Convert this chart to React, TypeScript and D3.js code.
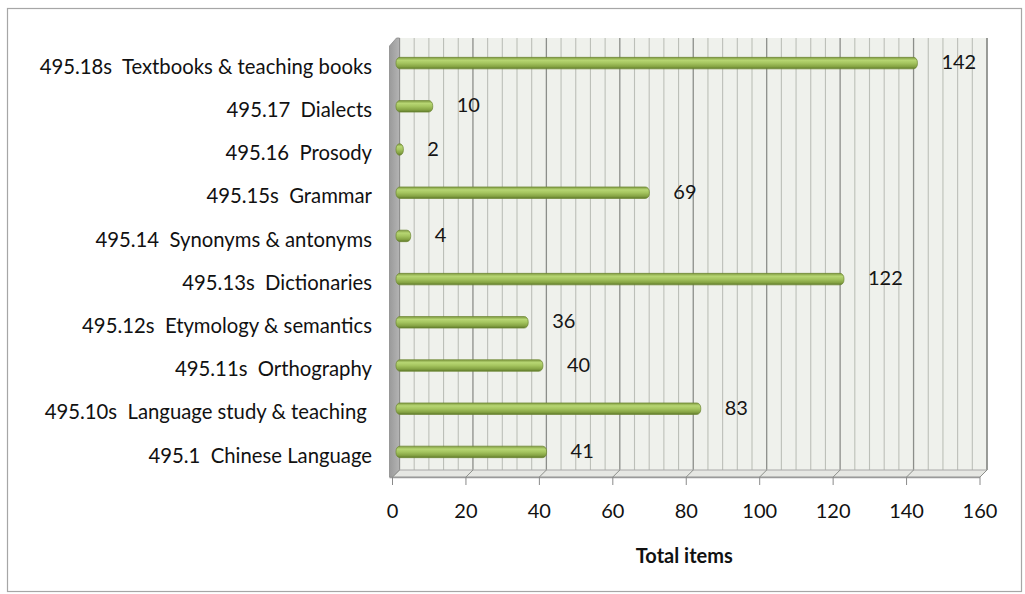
import React from "react";
import * as d3 from "d3";

const categories = [
  "495.18s  Textbooks & teaching books",
  "495.17  Dialects",
  "495.16  Prosody",
  "495.15s  Grammar",
  "495.14  Synonyms & antonyms",
  "495.13s  Dictionaries",
  "495.12s  Etymology & semantics",
  "495.11s  Orthography",
  "495.10s  Language study & teaching ",
  "495.1  Chinese Language",
];
const values = [142, 10, 2, 69, 4, 122, 36, 40, 83, 41];
const xTicks = [0, 20, 40, 60, 80, 100, 120, 140, 160];
const axisTitle = "Total items";

const W = 1025;
const H = 594;
const FONT = "Lato, 'Open Sans', sans-serif";

export default function App() {
  const x0 = 392.5;
  const x1 = 980;
  const yTop = 45;
  const yBot = 477;
  const depth = 7;
  const half = depth / 2;

  const x = d3.scaleLinear().domain([0, 160]).range([x0, x1]);
  const y = d3.scaleBand<string>().domain(categories).range([yTop, yBot]).padding(0);
  const minor = d3.range(0, 161, 4);
  const barH = 11.5;

  const bx0 = x0 + depth;
  const bx1 = x1 + depth;
  const byTop = yTop - depth;
  const byBot = yBot - depth;

  return (
    <svg
      width={W}
      height={H}
      style={{ position: "absolute", left: 0, top: 0, background: "#fff" }}
    >
      <defs>
        <linearGradient id="barGrad" x1="0" y1="0" x2="0" y2="1">
          <stop offset="0%" stopColor="#7f9a40" />
          <stop offset="25%" stopColor="#b7d673" />
          <stop offset="50%" stopColor="#a5c55f" />
          <stop offset="80%" stopColor="#86a444" />
          <stop offset="100%" stopColor="#5f7a2a" />
        </linearGradient>
        <linearGradient id="wallGrad" x1="0" y1="0" x2="1" y2="0">
          <stop offset="0%" stopColor="#9a9a9a" />
          <stop offset="100%" stopColor="#b4b4b4" />
        </linearGradient>
      </defs>

      {/* outer border */}
      <rect x={7.5} y={8.5} width={1014} height={583} fill="#fff" stroke="#a6a6a6" strokeWidth={1.2} />

      {/* back wall */}
      <rect x={bx0} y={byTop} width={bx1 - bx0} height={byBot - byTop} fill="#eff1ec" />
      {minor.map((v) => (
        <line
          key={"g" + v}
          x1={x(v) + depth}
          x2={x(v) + depth}
          y1={byTop}
          y2={byBot}
          stroke={v % 20 === 0 ? "#8c8e8a" : "#bcbfb8"}
          strokeWidth={v % 20 === 0 ? 1.3 : 1.1}
        />
      ))}
      <line x1={bx1} x2={bx1} y1={byTop} y2={byBot} stroke="#8c8e8a" strokeWidth={1.3} />

      {/* left side wall */}
      <polygon
        points={`${x0 - 3},${yTop + 1} ${bx0 - 3},${byTop} ${bx0},${byTop} ${bx0},${byBot} ${x0},${yBot} ${x0 - 3},${yBot}`}
        fill="url(#wallGrad)"
        stroke="#8a8a8a"
        strokeWidth={0.8}
      />

      {/* floor */}
      <polygon
        points={`${x0},${yBot} ${x1},${yBot} ${bx1},${byBot} ${bx0},${byBot}`}
        fill="#e6e7e3"
        stroke="#a8a8a8"
        strokeWidth={1}
      />
      <line x1={x0 - 3} x2={x1} y1={yBot + 0.5} y2={yBot + 0.5} stroke="#9a9a9a" strokeWidth={1.5} />
      {xTicks.map((v) => (
        <line
          key={"fl" + v}
          x1={x(v)}
          y1={yBot}
          x2={x(v) + depth}
          y2={byBot}
          stroke="#8c8e8a"
          strokeWidth={1}
        />
      ))}

      {/* ticks & tick labels */}
      {xTicks.map((v) => (
        <g key={"t" + v}>
          <line x1={x(v)} x2={x(v)} y1={yBot} y2={yBot + 8} stroke="#8a8a8a" strokeWidth={1} />
          <text
            x={x(v)}
            y={513}
            textAnchor="middle"
            dominantBaseline="middle"
            fontFamily={FONT}
            fontSize={20}
            fill="#111"
          >
            {v}
          </text>
        </g>
      ))}

      {/* bars */}
      {categories.map((c, i) => {
        const cy = (y(c) as number) + y.bandwidth() / 2 - half;
        const xs = x(0) + half;
        const xe = x(values[i]) + half;
        return (
          <g key={"b" + i}>
            <rect
              x={xs}
              y={cy - barH / 2}
              width={Math.max(xe - xs, 4)}
              height={barH}
              rx={4}
              ry={5}
              fill="url(#barGrad)"
              stroke="#6b8530"
              strokeWidth={0.7}
            />
            <text
              x={xe + 24}
              y={cy + 1}
              dominantBaseline="middle"
              fontFamily={FONT}
              fontSize={20}
              fill="#151515"
            >
              {values[i]}
            </text>
          </g>
        );
      })}

      {/* category labels */}
      {categories.map((c) => (
        <text
          key={"c" + c}
          x={372}
          y={(y(c) as number) + y.bandwidth() / 2 + 2}
          textAnchor="end"
          dominantBaseline="middle"
          fontFamily={FONT}
          fontSize={20.3}
          fill="#111"
          style={{ whiteSpace: "pre" }}
          xmlSpace="preserve"
        >
          {c}
        </text>
      ))}

      {/* axis title */}
      <text
        x={(x0 + x1) / 2 - 2}
        y={558}
        textAnchor="middle"
        dominantBaseline="middle"
        fontFamily={FONT}
        fontSize={20}
        fontWeight="bold"
        fill="#111"
      >
        {axisTitle}
      </text>
    </svg>
  );
}
